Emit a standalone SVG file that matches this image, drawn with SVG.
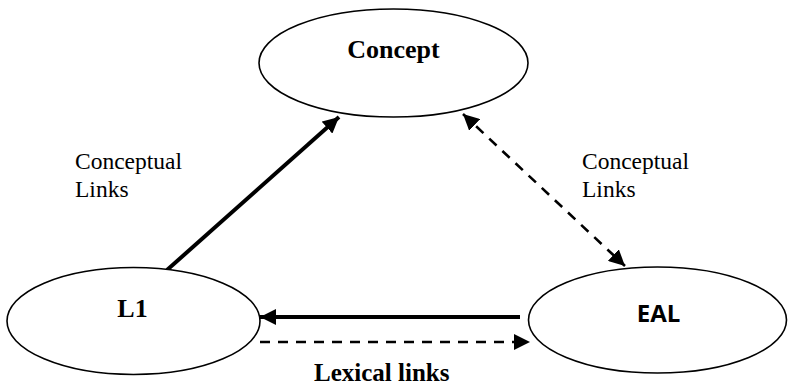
<svg xmlns="http://www.w3.org/2000/svg" width="788" height="387" viewBox="0 0 788 387">
  <style>
    .node { fill: #ffffff; stroke: #000000; stroke-width: 1.6; }
    .title { font-family: "Liberation Serif", "Times New Roman", serif; font-weight: bold; fill: #000; }
    .sans { font-family: "Open Sans", "Liberation Sans", sans-serif; font-weight: bold; fill: #000; }
    .label { font-family: "Liberation Serif", "Times New Roman", serif; font-size: 23.5px; fill: #000; }
    .solid { stroke: #000; stroke-width: 4; fill: none; }
    .dashed { stroke: #000; stroke-width: 2.6; fill: none; stroke-dasharray: 10 8; }
  </style>
  <defs>
    <marker id="head" markerUnits="userSpaceOnUse" markerWidth="16" markerHeight="16" viewBox="0 0 16 16" refX="16" refY="8" orient="auto-start-reverse">
      <path d="M0,0 L16,8 L0,16 Z" fill="#000"/>
    </marker>
  </defs>

  <g id="connectors">
    <line class="solid" x1="167" y1="270" x2="339" y2="117" marker-end="url(#head)"/>
    <line class="dashed" x1="463" y1="114" x2="625" y2="266" marker-start="url(#head)" marker-end="url(#head)"/>
    <line class="solid" x1="520" y1="317" x2="260" y2="317" marker-end="url(#head)"/>
    <line class="dashed" x1="260" y1="342" x2="530" y2="342" marker-end="url(#head)"/>
  </g>

  <g id="node-concept">
    <ellipse class="node" cx="393.5" cy="63" rx="134.5" ry="54"/>
    <text class="title" x="393.5" y="58" font-size="26" text-anchor="middle">Concept</text>
  </g>

  <g id="node-l1">
    <ellipse class="node" cx="133.5" cy="321" rx="126.5" ry="53.5"/>
    <text class="title" x="132.5" y="317" font-size="26" text-anchor="middle">L1</text>
  </g>

  <g id="node-eal">
    <ellipse class="node" cx="657.5" cy="320" rx="129" ry="53"/>
    <text class="sans" x="658.5" y="322" font-size="24" text-anchor="middle">EAL</text>
  </g>

  <g id="label-left">
    <text class="label" x="75" y="169">Conceptual</text>
    <text class="label" x="75" y="197">Links</text>
  </g>
  <g id="label-right">
    <text class="label" x="582" y="169">Conceptual</text>
    <text class="label" x="582" y="197">Links</text>
  </g>
  <g id="label-bottom">
    <text class="title" x="314" y="381" font-size="25">Lexical links</text>
  </g>
</svg>
